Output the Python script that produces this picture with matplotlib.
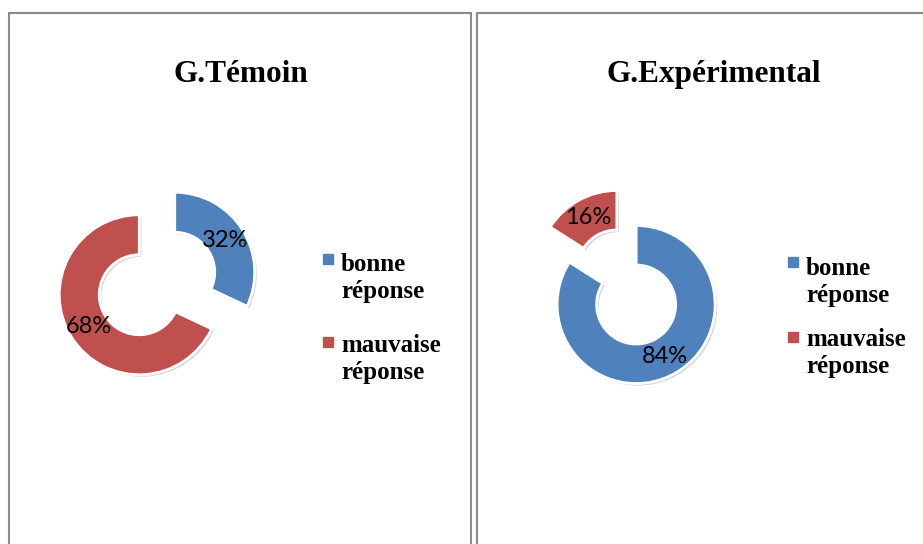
import matplotlib.pyplot as plt
import matplotlib.patheffects as pe
from matplotlib.patches import Rectangle

groups = ['G.Témoin', 'G.Expérimental']
categories = ['bonne\nréponse', 'mauvaise\nréponse']
temoin = [32, 68]
experimental = [84, 16]
colors = ['#4F81BD', '#C0504D']

W, H = 923, 544

# layout in image pixels (y measured from the top)
layouts = [
    dict(x0=9, x1=471, cx=157, cy=283.5, r=80, expl=21, tx=241,
         mx=327.5, ly=[259, 342], tbase=[298, 379]),
    dict(x0=477, x1=939, cx=626.5, cy=287, r=79, expl=20, tx=714,
         mx=792.5, ly=[262, 337], tbase=[302, 373]),
]

fig = plt.figure(figsize=(W / 100, H / 100), dpi=100)
ax = fig.add_axes([0, 0, 1, 1])

shadow = [pe.SimplePatchShadow(offset=(1.5, -1.5), shadow_rgbFace='#888888', alpha=0.35),
          pe.Normal()]

for title, values, lay in zip(groups, [temoin, experimental], layouts):
    # cell border
    ax.add_patch(Rectangle((lay['x0'], -10), lay['x1'] - lay['x0'], H - 13 + 10,
                           fill=False, edgecolor='#8a8a8a', linewidth=1.5))

    # explode is in data units (pixels here)
    wedges, _, _ = ax.pie(values, colors=colors, center=(lay['cx'], H - lay['cy']),
                          radius=lay['r'], explode=[lay['expl']] * len(values),
                          startangle=90, counterclock=False,
                          autopct='%1.0f%%', pctdistance=0.75,
                          textprops=dict(fontsize=17, family='Lato', color='black'),
                          wedgeprops=dict(width=lay['r'] * 0.5, edgecolor='white', linewidth=2))
    for w in wedges:
        w.set_path_effects(shadow)

    ax.text(lay['tx'], H - 82, title, ha='center', va='baseline',
            fontsize=22.5, fontweight='bold', family='Liberation Serif')

    # legend
    for cat, col, my, tb in zip(categories, colors, lay['ly'], lay['tbase']):
        ax.plot(lay['mx'], H - my, marker='s', markersize=7.5, color=col, linestyle='none')
        ax.text(lay['mx'] + 13.5, H - tb, cat, ha='left', va='baseline',
                fontsize=18, fontweight='bold', family='Liberation Serif',
                linespacing=1.22)

ax.set_xlim(0, W)
ax.set_ylim(0, H)
ax.set_aspect('auto')
ax.axis('off')

fig.savefig('out.png', dpi=100, facecolor='white')
